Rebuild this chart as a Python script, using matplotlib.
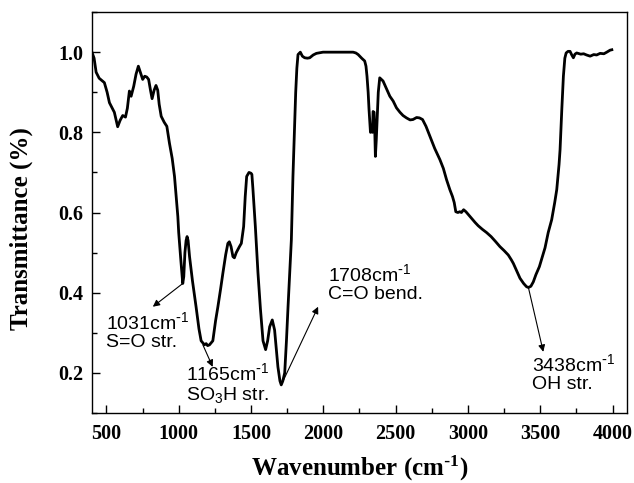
import matplotlib
matplotlib.use("Agg")
import matplotlib.pyplot as plt
from matplotlib.ticker import MultipleLocator

wavenumber = [400, 415, 429, 450, 486, 505, 521, 555, 578, 595, 613, 632, 645, 659, 671, 689, 705, 721, 735, 751,
              765, 779, 792, 805, 816, 830, 843, 855, 865, 879, 900, 918, 936, 955, 971, 985, 994, 1000, 1015, 1028,
              1035, 1043, 1051, 1058, 1065, 1075, 1095, 1120, 1140, 1155, 1178, 1190, 1200, 1213, 1236, 1255, 1271,
              1290, 1306, 1325, 1340, 1350, 1362, 1375, 1385, 1398, 1420, 1433, 1449, 1460, 1470, 1486, 1500, 1506,
              1513, 1530, 1548, 1565, 1583, 1601, 1615, 1629, 1647, 1663, 1675, 1686, 1700, 1709, 1720, 1733, 1745,
              1756, 1768, 1779, 1790, 1800, 1809, 1817, 1825, 1841, 1855, 1871, 1890, 1906, 1930, 1952, 1998, 2100,
              2206, 2225, 2241, 2265, 2286, 2295, 2302, 2310, 2316, 2326, 2335, 2340, 2344, 2351, 2356, 2360, 2366,
              2372, 2380, 2390, 2413, 2435, 2460, 2483, 2506, 2530, 2551, 2575, 2600, 2620, 2645, 2665, 2686, 2710,
              2737, 2770, 2806, 2830, 2852, 2875, 2893, 2905, 2916, 2930, 2944, 2955, 2970, 2986, 3005, 3025, 3050,
              3071, 3100, 3129, 3160, 3190, 3221, 3250, 3279, 3300, 3314, 3340, 3360, 3385, 3405, 3418, 3435, 3452,
              3470, 3494, 3515, 3533, 3555, 3579, 3600, 3614, 3630, 3637, 3649, 3660, 3670, 3679, 3692, 3706, 3718,
              3729, 3740, 3752, 3780, 3800, 3820, 3845, 3870, 3890, 3914, 3940, 3960, 3983, 3995]
transmittance = [1.00, 0.985, 0.95, 0.935, 0.924, 0.90, 0.874, 0.85, 0.814, 0.83, 0.842, 0.838, 0.86, 0.903, 0.89,
                 0.915, 0.945, 0.965, 0.95, 0.932, 0.94, 0.938, 0.932, 0.905, 0.884, 0.905, 0.917, 0.905, 0.87, 0.84,
                 0.825, 0.815, 0.773, 0.735, 0.69, 0.63, 0.59, 0.55, 0.48, 0.423, 0.44, 0.50, 0.53, 0.54, 0.53, 0.49,
                 0.43, 0.365, 0.31, 0.28, 0.27, 0.273, 0.268, 0.27, 0.28, 0.33, 0.365, 0.41, 0.45, 0.495, 0.523,
                 0.527, 0.515, 0.49, 0.487, 0.50, 0.515, 0.523, 0.565, 0.64, 0.69, 0.70, 0.698, 0.695, 0.66, 0.565,
                 0.45, 0.36, 0.28, 0.258, 0.28, 0.315, 0.332, 0.307, 0.26, 0.215, 0.18, 0.17, 0.18, 0.20, 0.28, 0.365,
                 0.45, 0.532, 0.69, 0.80, 0.90, 0.96, 0.994, 1.0, 0.99, 0.986, 0.985, 0.986, 0.993, 0.997, 1.0, 1.0,
                 1.0, 0.998, 0.994, 0.985, 0.978, 0.965, 0.94, 0.90, 0.857, 0.80, 0.805, 0.80, 0.852, 0.85, 0.80,
                 0.74, 0.78, 0.832, 0.90, 0.936, 0.928, 0.91, 0.89, 0.878, 0.861, 0.85, 0.842, 0.836, 0.831, 0.832,
                 0.837, 0.836, 0.832, 0.815, 0.79, 0.76, 0.732, 0.71, 0.682, 0.657, 0.64, 0.625, 0.602, 0.600, 0.602,
                 0.60, 0.607, 0.602, 0.594, 0.586, 0.575, 0.567, 0.558, 0.55, 0.54, 0.528, 0.515, 0.505, 0.494,
                 0.482, 0.473, 0.452, 0.436, 0.423, 0.415, 0.413, 0.416, 0.427, 0.445, 0.465, 0.49, 0.512, 0.55,
                 0.582, 0.625, 0.657, 0.72, 0.757, 0.857, 0.94, 0.985, 0.998, 1.002, 1.002, 0.993, 0.986, 0.995,
                 0.998, 0.995, 0.996, 0.993, 0.99, 0.994, 0.993, 0.997, 0.996, 1.0, 1.005, 1.006]

SUP = r"$\mathregular{^{\text{-}1}}$"
ann_labels = ["1031cm" + SUP + "\nS=O str.",
              "1165cm" + SUP + "\nSO$\\mathregular{_3}$H str.",
              "1708cm" + SUP + "\nC=O bend.",
              "3438cm" + SUP + "\nOH str."]
ann_peak = [(1028, 0.423), (1167, 0.27), (1709, 0.17), (3418, 0.413)]
ann_head = [(821, 0.365), (1235, 0.215), (1964, 0.365), (3521, 0.2525)]
ann_text = [(497, 0.354), (1051, 0.227), (2033, 0.473), (3440, 0.248)]

fig = plt.figure(figsize=(6.34, 4.83), dpi=100)
ax = fig.add_axes([0.145, 0.145, 0.844, 0.830])

ax.plot(wavenumber, transmittance, color="black", lw=2.0)

ax.set_xlim(400, 4100)
ax.set_ylim(0.1, 1.1)
ax.xaxis.set_major_locator(MultipleLocator(500))
ax.xaxis.set_minor_locator(MultipleLocator(250))
ax.yaxis.set_major_locator(MultipleLocator(0.2))
ax.yaxis.set_minor_locator(MultipleLocator(0.1))
ax.tick_params(which="both", direction="in", top=False, right=False)
ax.tick_params(which="major", length=6, width=1, pad=6)
ax.tick_params(axis="x", which="major", pad=8)
ax.tick_params(which="minor", length=3.5, width=1)
for s in ax.spines.values():
    s.set_linewidth(1.0)

serif = ["Liberation Serif", "DejaVu Serif"]
for lab in ax.get_xticklabels() + ax.get_yticklabels():
    lab.set_family(serif)
    lab.set_fontweight("bold")
    lab.set_fontsize(14.5)

ax.set_xlabel("Wavenumber (cm" + SUP + ")", family=serif, fontweight="bold", fontsize=18, labelpad=7)
ax.set_ylabel("Transmittance (%)", family=serif, fontweight="bold", fontsize=18)
ax.yaxis.set_label_coords(-0.110, 0.459)

for lbl, p, h, t in zip(ann_labels, ann_peak, ann_head, ann_text):
    ax.annotate("", xy=h, xytext=p,
                arrowprops=dict(arrowstyle="-|>", color="black", lw=0.8, shrinkA=0, shrinkB=0,
                                mutation_scale=10))
    ax.text(t[0], t[1], lbl, family=["Liberation Sans", "DejaVu Sans"], fontsize=14,
            ha="left", va="top", linespacing=1.05)

fig.savefig("out.png", dpi=100)
